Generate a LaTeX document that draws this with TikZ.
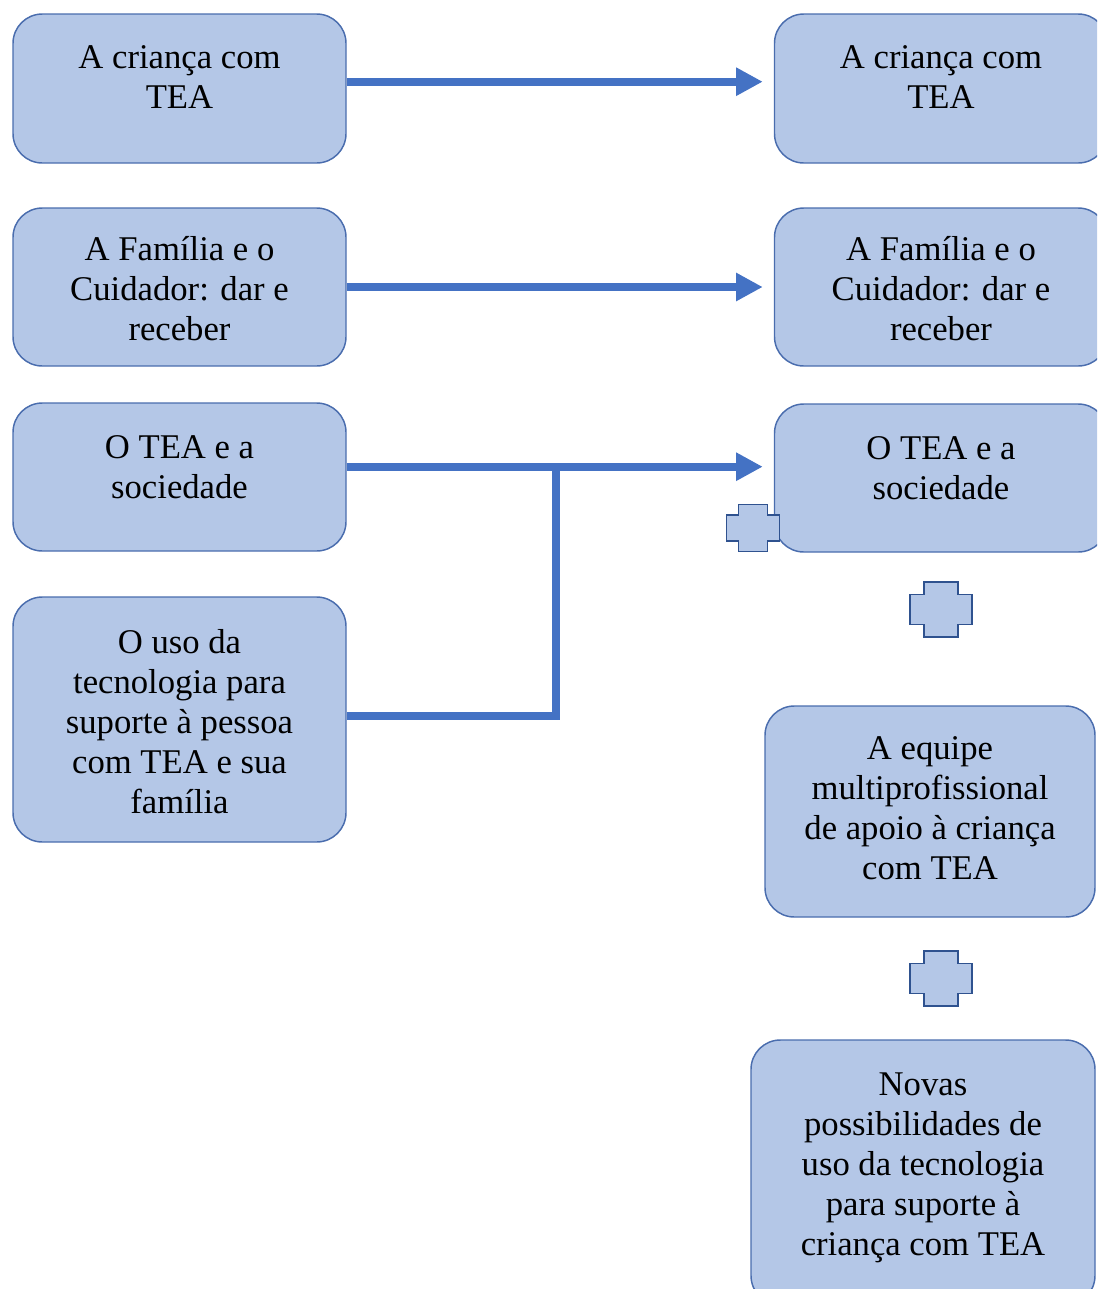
\documentclass[tikz,border=0pt]{standalone}
\usepackage{fontspec}
\setmainfont{Liberation Serif}
\usetikzlibrary{arrows.meta}

\definecolor{boxfill}{HTML}{B4C7E7}
\definecolor{boxline}{HTML}{4A6DAE}
\definecolor{linkline}{HTML}{4472C4}
\definecolor{plusline}{HTML}{2F528F}

\tikzstyle{box}=[draw=boxline, fill=boxfill, line width=1.1pt, rounded corners=22pt, minimum width=249.75pt, inner sep=0pt]
\tikzstyle{boxtext}=[align=center, font=\fontsize{26}{30}\selectfont]
\tikzstyle{link}=[draw=linkline, line width=6pt]
\tikzstyle{linktip}=[-{Triangle[length=20pt, width=20pt]}, shorten >=8.25pt]
\tikzset{plussign/.pic={
  \draw[draw=plusline, fill=boxfill, line width=1.2pt]
    (-17,-27.5) -- (17,-27.5) -- (17,-15) -- (31,-15) -- (31,15) -- (17,15)
    -- (17,27.5) -- (-17,27.5) -- (-17,15) -- (-31,15) -- (-31,-15) -- (-17,-15) -- cycle;
}}

\begin{document}
\begin{tikzpicture}[x=0.75pt, y=-0.75pt]
      \clip (0,0) rectangle (1097,1289);
      % left column
      \node (crianca) at (179.5, 88.5) [box, minimum height=111.75pt,
            label={[boxtext, yshift=8.6pt]center:{A criança com\\TEA}}] {};
      \node (familia) at (179.5, 287) [box, minimum height=118.5pt,
            label={[boxtext, yshift=-1.5pt]center:{A Família e o\\Cuidador: dar e\\receber}}] {};
      \node (sociedade) at (179.5, 477) [box, minimum height=111pt,
            label={[boxtext, yshift=7.5pt]center:{O TEA e a\\sociedade}}] {};
      \node (tecnologia) at (179.5, 719.5) [box, minimum height=183.75pt,
            label={[boxtext, yshift=-1.3pt]center:{O uso da\\tecnologia para\\suporte à pessoa\\com TEA e sua\\família}}] {};
      % right column
      \node (crianca2) at (941, 88.5) [box, minimum height=111.75pt,
            label={[boxtext, yshift=8.6pt]center:{A criança com\\TEA}}] {};
      \node (familia2) at (941, 287) [box, minimum height=118.5pt,
            label={[boxtext, yshift=-1.5pt]center:{A Família e o\\Cuidador: dar e\\receber}}] {};
      \node (sociedade2) at (941, 478) [box, minimum height=111pt,
            label={[boxtext, yshift=7.5pt]center:{O TEA e a\\sociedade}}] {};
      \node (equipe) at (930, 811.5) [box, minimum width=247.5pt, minimum height=158.25pt,
            label={[boxtext, yshift=2.6pt]center:{A equipe\\multiprofissional\\de apoio à criança\\com TEA}}] {};
      \node (novas) at (923, 1172.5) [box, minimum width=258pt, minimum height=198.75pt,
            label={[boxtext, yshift=3.75pt]center:{Novas\\possibilidades de\\uso da tecnologia\\para suporte à\\criança com TEA}}] {};
      % plus signs
      \pic at (753, 528) [scale=0.85] {plussign};
      \pic at (941, 609.5) {plussign};
      \pic at (941, 978.5) {plussign};
      % connectors
      \coordinate (join) at (555.7, 466.7);
      \draw[link, linktip] ([yshift=5.1pt]crianca.east) -- ([yshift=5.1pt]crianca2.west);
      \draw[link, linktip] (familia.east) -- (familia2.west);
      \draw[link] ([yshift=2.85pt]tecnologia.east) -| (join);
      \draw[link, linktip] (sociedade.east |- join) -- (join -| sociedade2.west);
\end{tikzpicture}
\end{document}
